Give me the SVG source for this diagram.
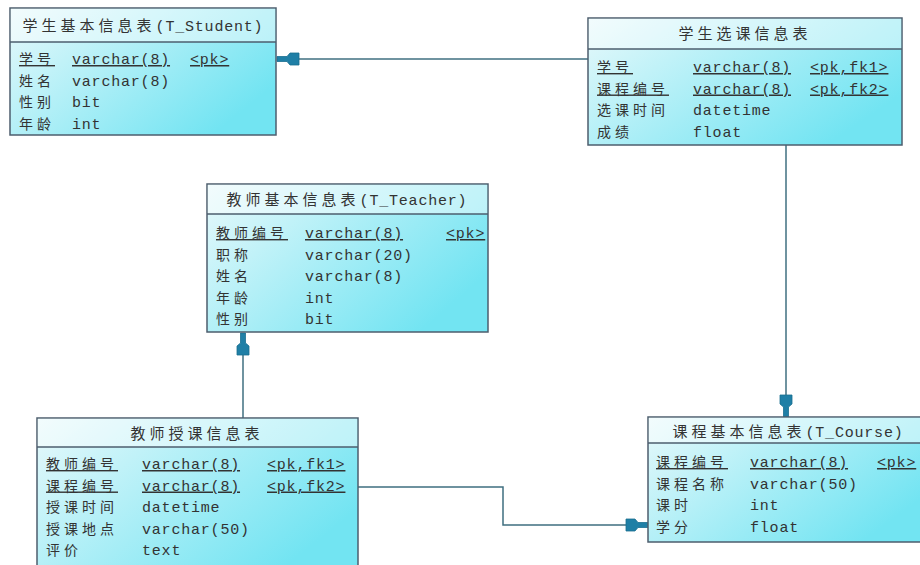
<svg xmlns="http://www.w3.org/2000/svg" width="920" height="565" viewBox="0 0 920 565">
<style>
.box{fill:url(#g);stroke:#4d5e6e;stroke-width:1.5}
.hd{fill:#ffffff;fill-opacity:0.45}
.sep{stroke:#4d5e6e;stroke-width:1.5}
.cn{font-family:"Noto Sans CJK SC","Liberation Sans",sans-serif;font-size:14px;letter-spacing:4px;fill:#333}
.hc{font-family:"Noto Sans CJK SC","Liberation Sans",sans-serif;font-size:15px;letter-spacing:4px;fill:#333}
.mono{font-family:"Liberation Mono",monospace;font-size:15px;letter-spacing:0.8px;fill:#333}
.u{text-decoration:underline}
.conn{fill:none;stroke:#3f6f80;stroke-width:1.5}
.arr{fill:#1f7fa6;stroke:#1a6f90;stroke-width:0.8}
</style>
<defs>
<linearGradient id="g" x1="0" y1="0" x2="1" y2="0.6">
<stop offset="0" stop-color="#e8f9fb"/>
<stop offset="1" stop-color="#72e4f2"/>
</linearGradient>
<path id="ah" d="M0,-2.5 L-10,-2.5 L-13,-6 L-22,-6 L-22,6 L-13,6 L-10,2.5 L0,2.5 Z"/>
</defs>
<rect width="920" height="565" fill="#ffffff"/>

<g id="connectors">
<path class="conn" d="M588,59 H277"/>
<path class="conn" d="M786,145 V417"/>
<path class="conn" d="M243,418 V333"/>
<path class="conn" d="M358,487 H503 V525 H648"/>
<use href="#ah" class="arr" transform="translate(277,59) rotate(180)"/>
<use href="#ah" class="arr" transform="translate(786,417) rotate(90)"/>
<use href="#ah" class="arr" transform="translate(243,333) rotate(-90)"/>
<use href="#ah" class="arr" transform="translate(648,525)"/>
</g>

<g id="T_Student">
<rect class="box" x="10" y="8" width="266" height="127"/>
<rect class="hd" x="10.75" y="8.75" width="264.5" height="33.25"/>
<line class="sep" x1="10" y1="42" x2="276" y2="42"/>
<text x="143" y="31" text-anchor="middle"><tspan class="hc">学生基本信息表</tspan><tspan class="mono">(T_Student)</tspan></text>
<text class="cn u" x="19" y="64">学号</text><text class="mono u" x="72" y="64">varchar(8)</text><text class="mono u" x="190" y="64">&lt;pk&gt;</text>
<text class="cn" x="19" y="85.5">姓名</text><text class="mono" x="72" y="85.5">varchar(8)</text>
<text class="cn" x="19" y="107">性别</text><text class="mono" x="72" y="107">bit</text>
<text class="cn" x="19" y="128.5">年龄</text><text class="mono" x="72" y="128.5">int</text>
</g>

<g id="T_StudentCourse">
<rect class="box" x="588" y="18" width="314" height="127"/>
<rect class="hd" x="588.75" y="18.75" width="312.5" height="30.25"/>
<line class="sep" x1="588" y1="49" x2="902" y2="49"/>
<text class="hc" x="745" y="39" text-anchor="middle">学生选课信息表</text>
<text class="cn u" x="597" y="72">学号</text><text class="mono u" x="693" y="72">varchar(8)</text><text class="mono u" x="810" y="72">&lt;pk,fk1&gt;</text>
<text class="cn u" x="597" y="93.5">课程编号</text><text class="mono u" x="693" y="93.5">varchar(8)</text><text class="mono u" x="810" y="93.5">&lt;pk,fk2&gt;</text>
<text class="cn" x="597" y="115">选课时间</text><text class="mono" x="693" y="115">datetime</text>
<text class="cn" x="597" y="136.5">成绩</text><text class="mono" x="693" y="136.5">float</text>
</g>

<g id="T_Teacher">
<rect class="box" x="207" y="184" width="281" height="148"/>
<rect class="hd" x="207.75" y="184.75" width="279.5" height="29.25"/>
<line class="sep" x1="207" y1="214" x2="488" y2="214"/>
<text x="347" y="205" text-anchor="middle"><tspan class="hc">教师基本信息表</tspan><tspan class="mono">(T_Teacher)</tspan></text>
<text class="cn u" x="216" y="238">教师编号</text><text class="mono u" x="305" y="238">varchar(8)</text><text class="mono u" x="446" y="238">&lt;pk&gt;</text>
<text class="cn" x="216" y="259.5">职称</text><text class="mono" x="305" y="259.5">varchar(20)</text>
<text class="cn" x="216" y="281">姓名</text><text class="mono" x="305" y="281">varchar(8)</text>
<text class="cn" x="216" y="302.5">年龄</text><text class="mono" x="305" y="302.5">int</text>
<text class="cn" x="216" y="324">性别</text><text class="mono" x="305" y="324">bit</text>
</g>

<g id="T_TeacherCourse">
<rect class="box" x="37" y="418" width="321" height="152"/>
<rect class="hd" x="37.75" y="418.75" width="319.5" height="28.25"/>
<line class="sep" x1="37" y1="447" x2="358" y2="447"/>
<text class="hc" x="197" y="439" text-anchor="middle">教师授课信息表</text>
<text class="cn u" x="46" y="469">教师编号</text><text class="mono u" x="142" y="469">varchar(8)</text><text class="mono u" x="267" y="469">&lt;pk,fk1&gt;</text>
<text class="cn u" x="46" y="490.5">课程编号</text><text class="mono u" x="142" y="490.5">varchar(8)</text><text class="mono u" x="267" y="490.5">&lt;pk,fk2&gt;</text>
<text class="cn" x="46" y="512">授课时间</text><text class="mono" x="142" y="512">datetime</text>
<text class="cn" x="46" y="533.5">授课地点</text><text class="mono" x="142" y="533.5">varchar(50)</text>
<text class="cn" x="46" y="555">评价</text><text class="mono" x="142" y="555">text</text>
</g>

<g id="T_Course">
<rect class="box" x="648" y="417" width="282" height="125"/>
<rect class="hd" x="648.75" y="417.75" width="280" height="25.25"/>
<line class="sep" x1="648" y1="443" x2="930" y2="443"/>
<text x="788" y="437" text-anchor="middle"><tspan class="hc">课程基本信息表</tspan><tspan class="mono">(T_Course)</tspan></text>
<text class="cn u" x="656" y="467">课程编号</text><text class="mono u" x="750" y="467">varchar(8)</text><text class="mono u" x="877" y="467">&lt;pk&gt;</text>
<text class="cn" x="656" y="488.5">课程名称</text><text class="mono" x="750" y="488.5">varchar(50)</text>
<text class="cn" x="656" y="510">课时</text><text class="mono" x="750" y="510">int</text>
<text class="cn" x="656" y="531.5">学分</text><text class="mono" x="750" y="531.5">float</text>
</g>
</svg>
